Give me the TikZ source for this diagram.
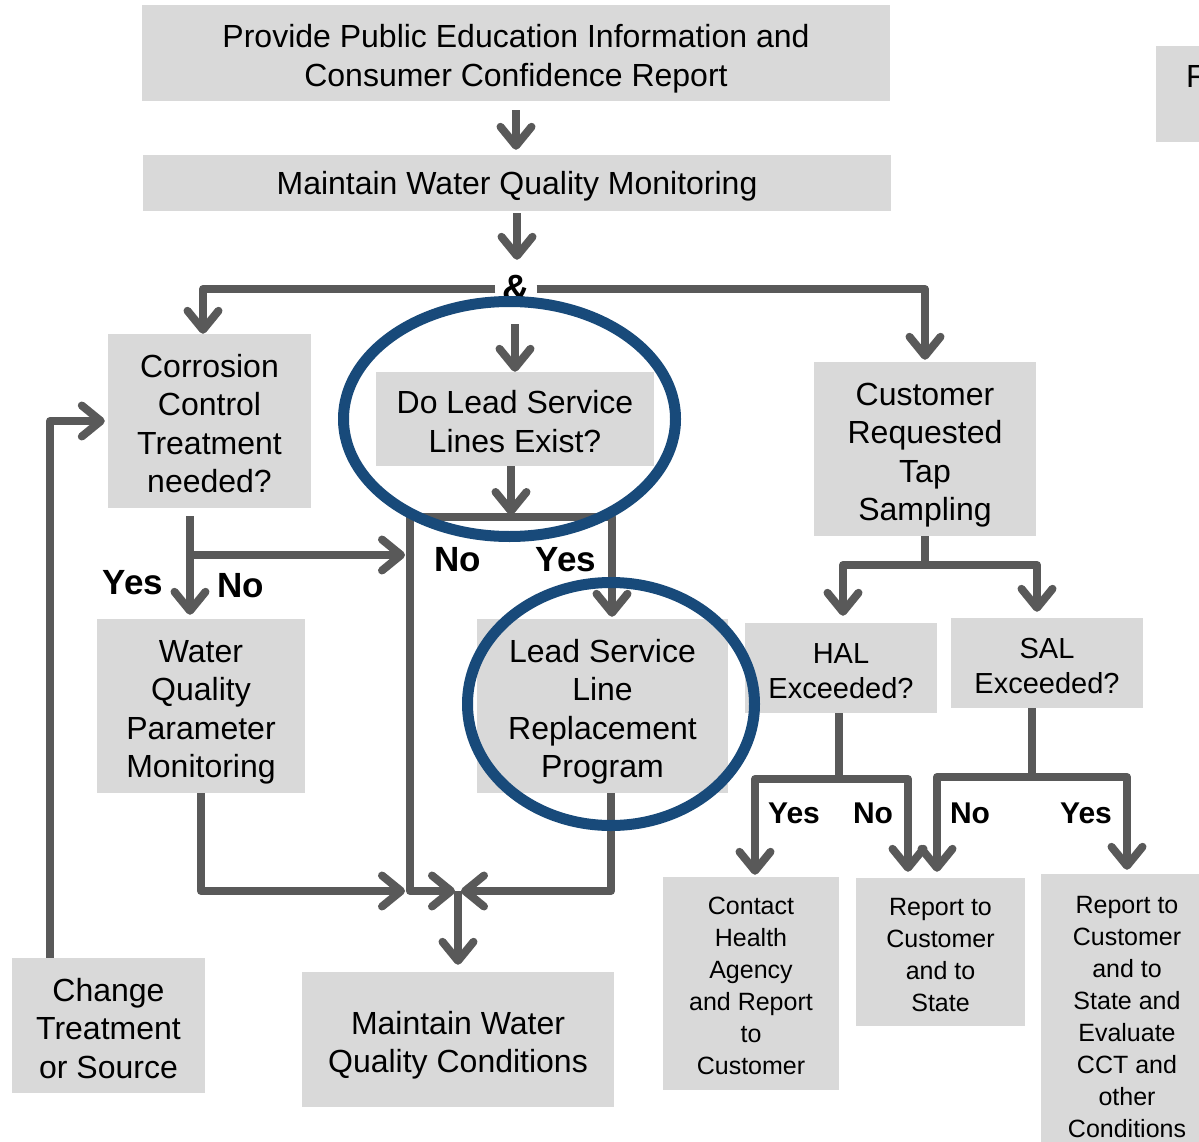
\documentclass[tikz,border=0pt]{standalone}
\usepackage{fontspec}
\setmainfont{Liberation Sans}
\usetikzlibrary{arrows.meta,calc}
\definecolor{boxgray}{HTML}{D9D9D9}
\definecolor{linegray}{HTML}{595959}
\definecolor{ringblue}{RGB}{24,74,122}
\begin{document}
\begin{tikzpicture}[x=1pt,y=-1pt,
  box/.style={fill=boxgray, inner sep=0pt, align=center, text depth=0pt,
    font=\fontsize{32}{38.5}\selectfont},
  midbox/.style={box, font=\fontsize{29}{35}\selectfont},
  smallbox/.style={box, font=\fontsize{25}{32}\selectfont},
  conn/.style={draw=linegray, line width=8pt, line join=round},
  arr/.style={conn, -{Straight Barb[length=19pt,width=31pt,round]}},
  lbl/.style={font=\fontsize{35}{40}\selectfont\bfseries, inner sep=0pt},
  slbl/.style={font=\fontsize{30}{36}\selectfont\bfseries, inner sep=0pt},
  ring/.style={draw=ringblue, line width=11pt}]
\useasboundingbox (0,0) rectangle (1199,1142);
\clip (0,0) rectangle (1199,1142);

% boxes (text height = space above the last baseline)
\node[box, minimum width=748pt, minimum height=96pt, text height=67pt, font=\fontsize{32}{39}\selectfont] (pe) at (516,53)
  {Provide Public Education Information and\\Consumer Confidence Report};
\node[box, minimum width=748pt, minimum height=56pt, text height=23pt] (wqm) at (517,183)
  {Maintain Water Quality Monitoring};
\node[box, anchor=north west, minimum width=60pt, minimum height=96pt] (fbox) at (1156,46) {};
\node[anchor=west, inner sep=0pt, font=\fontsize{32}{38.5}\selectfont] (ftext) at (1186,76) {F};

\node[box, minimum width=203pt, minimum height=174pt, text height=143.5pt] (cct) at (209.5,421)
  {Corrosion\\Control\\Treatment\\needed?};
\node[box, minimum width=278pt, minimum height=94pt, text height=66.5pt] (dl) at (515,419)
  {Do Lead Service\\Lines Exist?};
\node[box, minimum width=222pt, minimum height=174pt, text height=143.5pt] (crs) at (925,449)
  {Customer\\Requested\\Tap\\Sampling};
\node[box, minimum width=208pt, minimum height=174pt, text height=143.5pt] (wqp) at (201,706)
  {Water\\Quality\\Parameter\\Monitoring};
\node[box, minimum width=251pt, minimum height=174pt, text height=143.5pt] (lslr) at (602.5,706)
  {Lead Service\\Line\\Replacement\\Program};
\node[midbox, minimum width=192pt, minimum height=90pt, text height=61pt] (hal) at (841,668)
  {HAL\\Exceeded?};
\node[midbox, minimum width=192pt, minimum height=90pt, text height=61pt] (sal) at (1047,663)
  {SAL\\Exceeded?};
\node[smallbox, minimum width=176pt, minimum height=213pt, text height=182pt] (contact) at (751,983.5)
  {Contact\\Health\\Agency\\and Report\\to\\Customer};
\node[smallbox, minimum width=169pt, minimum height=148pt, text height=118pt] (rcs) at (940.5,952)
  {Report to\\Customer\\and to\\State};
\node[smallbox, minimum width=172pt, minimum height=280pt, text height=246pt] (rcse) at (1127,1014)
  {Report to\\Customer\\and to\\State and\\Evaluate\\CCT and\\other\\Conditions};
\node[box, minimum width=193pt, minimum height=135pt, text height=105pt] (chg) at (108.5,1025.5)
  {Change\\Treatment\\or Source};
\node[box, minimum width=312pt, minimum height=135pt, text height=66.5pt] (mwqc) at (458,1039.5)
  {Maintain Water\\Quality Conditions};

% junction marker and branch points
\node[font=\fontsize{38}{40}\selectfont\bfseries, inner sep=0pt, minimum width=41pt, minimum height=30pt] (amp) at (516,289) {\&};
\coordinate (nsplit) at (511,517);
\coordinate (noline) at (410,517);
\coordinate (join) at (458,891);
\coordinate (yn) at (190,555);
\coordinate (crsplit) at (925,565);
\coordinate (halsplit) at (839,779);
\coordinate (salsplit) at (1032,777);

% main trunk
\draw[arr, shorten <=9pt, shorten >=5pt] (pe.south) -- (pe.south |- wqm.north);
\draw[arr, shorten <=2pt, shorten >=14pt] (wqm.south) -- (wqm.south |- amp.north);
\draw[arr] (amp.west) -| ($(cct.north)+(-6.5,0)$);
\draw[arr, shorten >=2pt] (amp.east) -| (crs.north);
\draw[arr, shorten <=20pt] (amp.south -| dl.north) -- (dl.north);

% lead service line question
\draw[arr, shorten >=2pt] (dl.south -| nsplit) -- (nsplit);
\draw[arr, shorten >=2pt] (nsplit) -| ($(lslr.north)+(9.5,0)$);
\draw[arr, shorten >=3pt] (nsplit) -- (noline) |- (join);
\draw[arr, shorten >=3pt] ($(lslr.south)+(8.5,0)$) |- (join);
\draw[arr, shorten >=7pt] (join) -- (join |- mwqc.north);

% corrosion control question
\draw[conn] ($(cct.south)+(-19.5,8)$) -- (yn);
\draw[arr, shorten >=4pt] (yn) -- (yn |- wqp.north);
\draw[arr, shorten >=5pt] (yn) -- (yn -| noline);
\draw[arr, shorten >=5pt] (wqp.south) |- (noline |- join);
\draw[arr, shorten >=3pt] ($(chg.north)+(-58.5,0)$) |- (cct.west);

% tap sampling branch
\draw[conn] (crs.south) -- (crsplit);
\draw[arr, shorten >=7pt] (crsplit) -| ($(hal.north)+(2,0)$);
\draw[arr, shorten >=6pt] (crsplit) -| ($(sal.north)+(-10,0)$);
\draw[conn] ($(hal.south)+(-2,0)$) -- (halsplit);
\draw[arr, shorten >=2pt] (halsplit) -| ($(contact.north)+(4,0)$);
\draw[arr, shorten >=6pt] (halsplit) -| ($(rcs.north)+(-32.5,0)$);
\draw[conn] ($(sal.south)+(-15,0)$) -- (salsplit);
\draw[arr, shorten >=6pt] (salsplit) -| ($(rcs.north)+(-3.5,0)$);
\draw[arr, shorten >=4pt] (salsplit) -| (rcse.north);

% branch labels
\node[lbl] (no1) at (458,560) {No};
\node[lbl] (yes1) at (566,560) {Yes};
\node[lbl] (yes2) at (133,583) {Yes};
\node[lbl] (no2) at (241,586) {No};
\node[slbl] (yes3) at (794,813) {Yes};
\node[slbl] (no3) at (873,813) {No};
\node[slbl] (no4) at (970,813) {No};
\node[slbl] (yes4) at (1086,813) {Yes};

% highlight rings
\draw[ring] (509.5,419) ellipse [x radius=166pt, y radius=117.5pt];
\draw[ring] (611,704) ellipse [x radius=143.5pt, y radius=121.5pt];
\end{tikzpicture}
\end{document}
